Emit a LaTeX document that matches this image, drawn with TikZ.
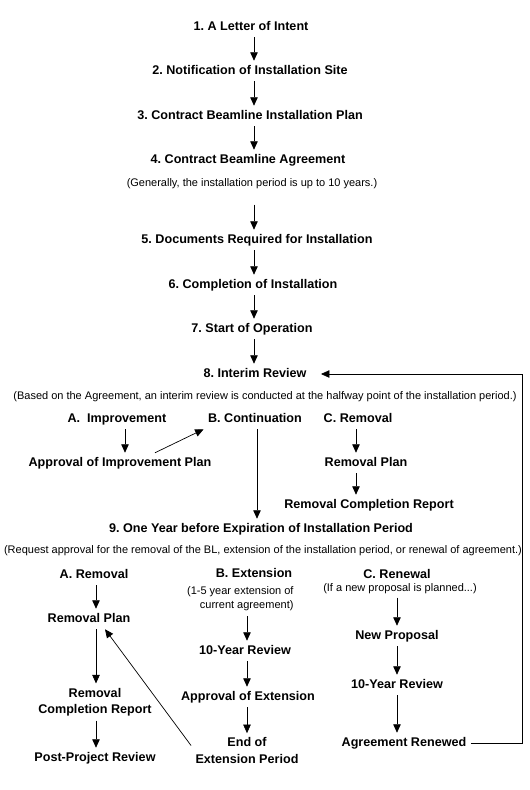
\documentclass[tikz,border=0pt]{standalone}
\usepackage{fontspec}
\setmainfont{Liberation Sans}
\frenchspacing
\usetikzlibrary{arrows.meta}
\tikzset{
% Two node styles for the flow: bold steps and plain notes
step node/.style={font=\fontsize{12.6}{16.5}\selectfont\bfseries,inner sep=3pt,outer sep=1.5pt,
  align=center,text height=9pt,text depth=2.5pt},
two lines/.style={text height={},text depth={}},
note node/.style={font=\fontsize{11}{14}\selectfont,inner sep=2pt,outer sep=1.5pt,align=center},
flow arrow/.style={-{Triangle[width=7.5pt,length=8.5pt]},line width=0.7pt}
}

\begin{document}
\begin{tikzpicture}[x=1pt,y=-1pt]
\useasboundingbox (0,0) rectangle (530,790);
% Columns for the arrows
\coordinate (colmain) at (254,0);
\coordinate (colcont) at (257,0);
\coordinate (colimp) at (125,0);
\coordinate (colrem) at (356,0);
\coordinate (cola) at (96,0);
\coordinate (colb) at (247,0);
\coordinate (colc) at (397,0);
\coordinate (loop) at (522,374);
% Main steps
\node(t1)[step node] at (251,27) {1. A Letter of Intent};
\node(t2)[step node] at (250,71) {2. Notification of Installation Site};
\node(t3)[step node] at (250,116) {3. Contract Beamline Installation Plan};
\node(t4)[step node] at (248,160) {4. Contract Beamline Agreement};
\node(n4)[note node] at (252,184) {(Generally, the installation period is up to 10 years.)};
\node(t5)[step node] at (257,240) {5. Documents Required for Installation};
\node(t6)[step node] at (253,285) {6. Completion of Installation};
\node(t7)[step node] at (252,329) {7. Start of Operation};
\node(t8)[step node] at (255,374) {8. Interim Review};
\node(n8)[note node] at (265,397) {(Based on the Agreement, an interim review is conducted at the halfway point of the installation period.)};
% Interim review outcomes
\node(a8)[step node] at (117,419) {A.\ \ Improvement};
\node(b8)[step node] at (255,419) {B. Continuation};
\node(c8)[step node] at (358,419) {C. Removal};
\node(a8p)[step node] at (120,463) {Approval of Improvement Plan};
\node(c8p)[step node] at (366,463) {Removal Plan};
\node(c8r)[step node] at (369,505) {Removal Completion Report};
\node(t9)[step node] at (261,529) {9. One Year before Expiration of Installation Period};
\node(n9)[note node] at (263,551) {(Request approval for the removal of the BL, extension of the installation period, or renewal of agreement.)};
% Removal
\node(a9)[step node] at (94,575) {A. Removal};
\node(a9p)[step node] at (89,619) {Removal Plan};
\node(a9r)[step node,two lines] at (95,702) {Removal\\Completion Report};
\node(a9x)[step node] at (95,758) {Post-Project Review};
% Extension
\node(b9)[step node] at (254,574) {B. Extension};
\node(b9n)[note node,align=right,anchor=east] at (297,598.5) {(1-5 year extension of\\current agreement)};
\node(b9r)[step node] at (245,651) {10-Year Review};
\node(b9a)[step node] at (248,697) {Approval of Extension};
\node(b9e)[step node,two lines] at (247,750.5) {End of\\Extension Period};
% Renewal
\node(c9)[step node] at (397,575) {C. Renewal};
\node(c9n)[note node] at (400,589) {(If a new proposal is planned...)};
\node(c9p)[step node] at (397,636) {New Proposal};
\node(c9r)[step node] at (397,685) {10-Year Review};
\node(c9a)[step node] at (404,743) {Agreement Renewed};
% Arrows
\draw[flow arrow] (t1.south -| colmain) -- (t2.north -| colmain);
\draw[flow arrow] (t2.south -| colmain) -- (t3.north -| colmain);
\draw[flow arrow] (t3.south -| colmain) -- (t4.north -| colmain);
\draw[flow arrow,shorten <=12pt] (n4.south -| colmain) -- (t5.north -| colmain);
\draw[flow arrow] (t5.south -| colmain) -- (t6.north -| colmain);
\draw[flow arrow] (t6.south -| colmain) -- (t7.north -| colmain);
\draw[flow arrow] (t7.south -| colmain) -- (t8.north -| colmain);
\draw[flow arrow] (a8.south -| colimp) -- (a8p.north -| colimp);
\draw[flow arrow] ([xshift=35pt]a8p.north) -- (b8.south west);
\draw[flow arrow] (b8.south -| colcont) -- (t9.north -| colcont);
\draw[flow arrow] (c8.south -| colrem) -- (c8p.north -| colrem);
\draw[flow arrow] (c8p.south -| colrem) -- (c8r.north -| colrem);
\draw[flow arrow] (a9.south -| cola) -- (a9p.north -| cola);
\draw[flow arrow] (a9p.south -| cola) -- (a9r.north -| cola);
\draw[flow arrow] (a9r.south -| cola) -- (a9x.north -| cola);
\draw[flow arrow,shorten <=2pt] (b9n.south -| colb) -- (b9r.north -| colb);
\draw[flow arrow] (b9r.south -| colb) -- (b9a.north -| colb);
\draw[flow arrow] (b9a.south -| colb) -- (b9e.north -| colb);
\draw[flow arrow] ([yshift=5pt]b9e.west) -- ([xshift=16pt]a9p.south);
\draw[flow arrow] (c9n.south -| colc) -- (c9p.north -| colc);
\draw[flow arrow] (c9p.south -| colc) -- (c9r.north -| colc);
\draw[flow arrow] (c9r.south -| colc) -- (c9a.north -| colc);
% Renewal leads back to the interim review
\draw[flow arrow,shorten >=10pt] (c9a.east) -| (loop) -- (t8.east);
\end{tikzpicture}
\end{document}
